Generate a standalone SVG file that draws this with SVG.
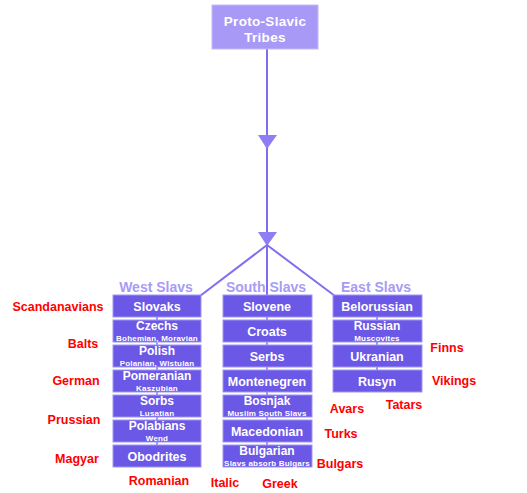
<svg xmlns="http://www.w3.org/2000/svg" width="527" height="493" viewBox="0 0 527 493">
<style>
.bg{fill:#ffffff}
.box rect{fill:#6c58e6;stroke:#a195f2;stroke-width:1}
.top rect{fill:#a899f6;stroke:#c4baf9;stroke-width:1}
.t{font-family:"Liberation Sans",Arial,sans-serif;font-weight:bold;fill:#ffffff;text-anchor:middle}
.m{font-size:12.5px}
.m2{font-size:12px}
.s{font-size:8px;letter-spacing:0.2px}
.grp{font-family:"Liberation Sans",Arial,sans-serif;font-weight:bold;font-size:14px;fill:#a79cf4;text-anchor:middle}
.red{font-family:"Liberation Sans",Arial,sans-serif;font-weight:bold;font-size:12.5px;fill:#ff0000;text-anchor:middle}
.ln{stroke:#7f6ff0;stroke-width:2;fill:none}
.stub{stroke:#a195f2;stroke-width:2}
.ah{fill:#8d7ef4}
</style>
<rect class="bg" x="0" y="0" width="527" height="493"/>
<g id="connectors">
<line class="ln" x1="267" y1="49" x2="267" y2="246"/>
<polygon class="ah" points="258,135 277,135 267,149"/>
<polygon class="ah" points="258,232 277,232 267,246"/>
<line class="ln" x1="267" y1="245" x2="200" y2="296"/>
<line class="ln" x1="267" y1="245" x2="267" y2="296"/>
<line class="ln" x1="267" y1="245" x2="335" y2="296"/>
<line class="stub" x1="157" y1="317" x2="157" y2="445"/>
<line class="stub" x1="267" y1="317" x2="267" y2="445"/>
<line class="stub" x1="377" y1="317" x2="377" y2="370"/>
</g>
<g id="proto" class="top">
<rect x="212" y="5" width="106" height="44"/>
<text class="t" x="265" y="26" font-size="13.5" letter-spacing="0.3">Proto-Slavic</text>
<text class="t" x="265" y="41.5" font-size="13.5" letter-spacing="0.3">Tribes</text>
</g>
<g id="groups">
<text class="grp" x="156" y="292">West Slavs</text>
<text class="grp" x="266" y="292">South Slavs</text>
<text class="grp" x="376" y="292">East Slavs</text>
</g>
<g id="slovaks" class="box"><rect x="113" y="295" width="88" height="22"/><text class="t m" x="157" y="311">Slovaks</text></g>
<g id="czechs" class="box"><rect x="113" y="320" width="88" height="22"/><text class="t m2" x="157" y="329.5">Czechs</text><text class="t s" x="157" y="340.5">Bohemian, Moravian</text></g>
<g id="polish" class="box"><rect x="113" y="345" width="88" height="22"/><text class="t m2" x="157" y="354.5">Polish</text><text class="t s" x="157" y="365.5">Polanian, Wistulan</text></g>
<g id="pomeranian" class="box"><rect x="113" y="370" width="88" height="22"/><text class="t m2" x="157" y="379.5">Pomeranian</text><text class="t s" x="157" y="390.5">Kaszubian</text></g>
<g id="sorbs" class="box"><rect x="113" y="395" width="88" height="22"/><text class="t m2" x="157" y="404.5">Sorbs</text><text class="t s" x="157" y="415.5">Lusatian</text></g>
<g id="polabians" class="box"><rect x="113" y="420" width="88" height="22"/><text class="t m2" x="157" y="429.5">Polabians</text><text class="t s" x="157" y="440.5">Wend</text></g>
<g id="obodrites" class="box"><rect x="113" y="445" width="88" height="22"/><text class="t m" x="157" y="461">Obodrites</text></g>
<g id="slovene" class="box"><rect x="223" y="295" width="89" height="22"/><text class="t m" x="267" y="311">Slovene</text></g>
<g id="croats" class="box"><rect x="223" y="320" width="89" height="22"/><text class="t m" x="267" y="336">Croats</text></g>
<g id="serbs" class="box"><rect x="223" y="345" width="89" height="22"/><text class="t m" x="267" y="361">Serbs</text></g>
<g id="montenegren" class="box"><rect x="223" y="370" width="89" height="22"/><text class="t m" x="267" y="386">Montenegren</text></g>
<g id="bosnjak" class="box"><rect x="223" y="395" width="89" height="22"/><text class="t m2" x="267" y="404.5">Bosnjak</text><text class="t s" x="267" y="415.5">Muslim South Slavs</text></g>
<g id="macedonian" class="box"><rect x="223" y="420" width="89" height="22"/><text class="t m" x="267" y="436">Macedonian</text></g>
<g id="bulgarian" class="box"><rect x="223" y="445" width="89" height="22"/><text class="t m2" x="267" y="454.5">Bulgarian</text><text class="t s" x="267" y="465.5">Slavs absorb Bulgars</text></g>
<g id="belorussian" class="box"><rect x="333" y="295" width="89" height="22"/><text class="t m" x="377" y="311">Belorussian</text></g>
<g id="russian" class="box"><rect x="333" y="320" width="89" height="22"/><text class="t m2" x="377" y="329.5">Russian</text><text class="t s" x="377" y="340.5">Muscovites</text></g>
<g id="ukranian" class="box"><rect x="333" y="345" width="89" height="22"/><text class="t m" x="377" y="361">Ukranian</text></g>
<g id="rusyn" class="box"><rect x="333" y="370" width="89" height="22"/><text class="t m" x="377" y="386">Rusyn</text></g>
<g id="neighbours">
<text class="red" x="58" y="311">Scandanavians</text>
<text class="red" x="83" y="348">Balts</text>
<text class="red" x="76" y="385">German</text>
<text class="red" x="74" y="424">Prussian</text>
<text class="red" x="77" y="463">Magyar</text>
<text class="red" x="159" y="485">Romanian</text>
<text class="red" x="225" y="487">Italic</text>
<text class="red" x="280" y="488">Greek</text>
<text class="red" x="340" y="468">Bulgars</text>
<text class="red" x="341" y="438">Turks</text>
<text class="red" x="347" y="413">Avars</text>
<text class="red" x="404" y="409">Tatars</text>
<text class="red" x="447" y="352">Finns</text>
<text class="red" x="454" y="385">Vikings</text>
</g>
</svg>
